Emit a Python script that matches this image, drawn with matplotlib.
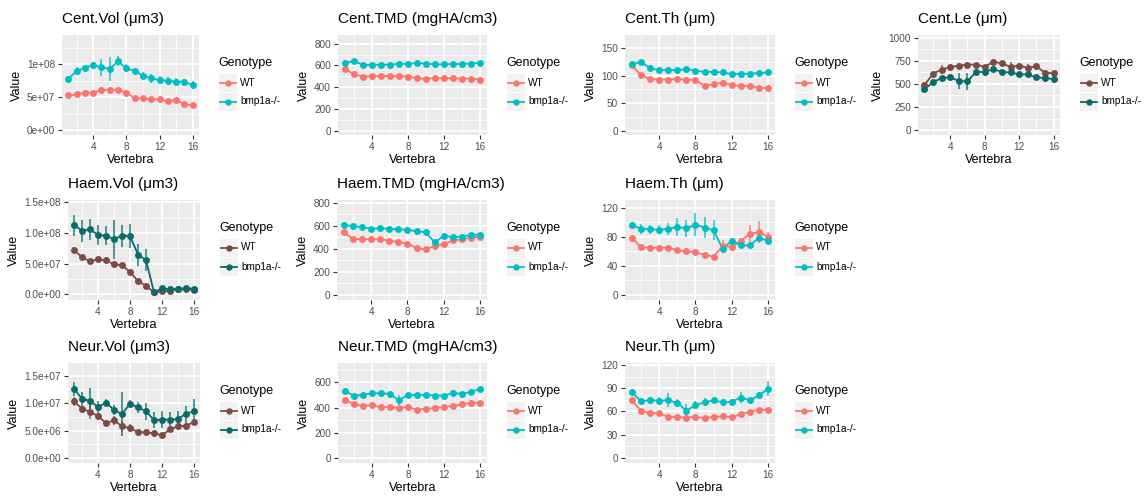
import matplotlib
matplotlib.use('Agg')
import matplotlib.pyplot as plt
from matplotlib.patches import Rectangle
from matplotlib.lines import Line2D
import numpy as np

plt.rcParams['font.family'] = ['Liberation Sans', 'DejaVu Sans']

W, H = 1146, 497

vertebra = list(range(1, 17))
genotypes = ['WT', 'bmp1a-/-']

# ---- data (mean, error half-width) ----
cent_vol_wt = [5.28e7, 5.44e7, 5.69e7, 5.69e7, 6.1e7, 6.15e7, 6.15e7, 5.69e7, 4.88e7, 4.83e7, 4.72e7, 4.67e7, 4.37e7, 4.57e7, 3.96e7, 3.76e7]
cent_vol_wt_err = [2.5e6, 3e6, 4e6, 3.5e6, 4e6, 3e6, 3e6, 4e6, 2.5e6, 2.5e6, 3e6, 2.5e6, 2.5e6, 2.5e6, 2e6, 2e6]
cent_vol_ko = [7.8e7, 9.0e7, 9.5e7, 9.9e7, 9.6e7, 9.3e7, 1.05e8, 9.4e7, 9.0e7, 8.3e7, 7.9e7, 7.6e7, 7.5e7, 7.4e7, 7.35e7, 6.85e7]
cent_vol_ko_err = [4e6, 6e6, 4e6, 5e6, 1.3e7, 1.8e7, 8e6, 6e6, 5e6, 5e6, 7e6, 6e6, 6e6, 6e6, 5e6, 6e6]

cent_tmd_wt = [570, 519, 497, 500, 500, 503, 500, 497, 482, 476, 485, 482, 482, 479, 479, 470]
cent_tmd_wt_err = [12, 10, 8, 8, 8, 8, 8, 8, 8, 8, 8, 8, 8, 8, 8, 8]
cent_tmd_ko = [622, 640, 607, 604, 607, 607, 613, 613, 622, 616, 610, 610, 613, 613, 616, 625]
cent_tmd_ko_err = [10, 10, 8, 8, 8, 8, 8, 8, 8, 8, 8, 8, 8, 8, 8, 10]

cent_th_wt = [119, 101, 94, 93, 93, 93.5, 93, 92, 82, 84.5, 87.5, 83, 81.5, 81.5, 78.5, 77]
cent_th_wt_err = [3, 2.5, 2, 2, 2, 2, 2, 2, 2, 2, 2, 2, 2, 2, 2, 2]
cent_th_ko = [121, 125, 114, 110, 111, 109.5, 112.5, 109, 107, 107, 106, 103, 103.5, 103.5, 105, 106]
cent_th_ko_err = [3, 3, 2, 2, 2, 2, 2, 2, 2, 2, 2, 2, 2, 2, 2, 2]

cent_le_wt = [489, 610, 656, 681, 699, 709, 709, 684, 741, 723, 684, 699, 674, 692, 621, 617]
cent_le_wt_err = [20, 20, 45, 25, 30, 25, 20, 25, 20, 20, 50, 25, 40, 35, 25, 20]
cent_le_ko = [443, 518, 564, 571, 532, 528, 631, 628, 663, 628, 624, 603, 603, 571, 564, 553]
cent_le_ko_err = [20, 20, 15, 15, 90, 90, 20, 40, 20, 15, 15, 15, 15, 20, 15, 15]

haem_vol_wt = [7.28e7, 6.03e7, 5.43e7, 5.7e7, 5.54e7, 4.89e7, 4.78e7, 3.64e7, 2.17e7, 1.41e7, 3.3e6, 4.9e6, 6.0e6, 8.1e6, 8.1e6, 7.6e6]
haem_vol_wt_err = [5e6, 3e6, 2.5e6, 2.5e6, 5e6, 3e6, 3e6, 3e6, 2e6, 2e6, 1e6, 1e6, 1e6, 1e6, 1e6, 1e6]
haem_vol_ko = [1.13e8, 1.04e8, 1.06e8, 9.7e7, 9.6e7, 9.0e7, 9.6e7, 9.5e7, 6.5e7, 5.6e7, 3.3e6, 9.8e6, 8.1e6, 9.2e6, 9.8e6, 9.2e6]
haem_vol_ko_err = [1.7e7, 1.8e7, 1.7e7, 1.6e7, 1.6e7, 3.2e7, 1.8e7, 2e7, 1.8e7, 1.8e7, 1e6, 2e6, 2e6, 2e6, 2e6, 2e6]

haem_tmd_wt = [542, 487, 481, 484, 484, 470, 458, 444, 406, 394, 423, 438, 473, 481, 496, 505]
haem_tmd_wt_err = [12, 8, 8, 8, 8, 8, 8, 8, 8, 8, 30, 15, 20, 35, 25, 20]
haem_tmd_ko = [606, 597, 589, 574, 577, 574, 568, 566, 551, 545, 455, 513, 502, 505, 522, 522]
haem_tmd_ko_err = [10, 10, 10, 10, 10, 10, 10, 25, 25, 25, 15, 10, 10, 10, 10, 10]

haem_th_wt = [78.7, 65.3, 64.9, 64.9, 64.9, 61.2, 59.8, 58.4, 55.2, 52.4, 67, 66, 74.5, 84.2, 86, 80]
haem_th_wt_err = [2, 1.5, 1.5, 1.5, 1.5, 1.5, 1.5, 1.5, 1.5, 1.5, 8, 6, 4, 12, 15, 6]
haem_th_ko = [96.1, 91, 90.2, 89.7, 90.6, 93.4, 91.5, 96.6, 92.5, 88.8, 63, 74.5, 68, 68, 78.7, 74]
haem_th_ko_err = [4, 7, 6, 6, 8, 12, 12, 16, 14, 14, 5, 4, 3, 3, 5, 4]

neur_vol_wt = [1.03e7, 8.98e6, 8.38e6, 7.65e6, 6.37e6, 6.86e6, 5.77e6, 5.46e6, 4.73e6, 4.67e6, 4.49e6, 4.13e6, 5.22e6, 5.77e6, 5.89e6, 6.56e6]
neur_vol_wt_err = [8e5, 7e5, 1.3e6, 8e5, 5e5, 8e5, 1e6, 7e5, 4e5, 3e5, 3e5, 4e5, 5e5, 5e5, 8e5, 6e5]
neur_vol_ko = [1.26e7, 1.08e7, 1.04e7, 9.29e6, 1.01e7, 8.74e6, 8.01e6, 9.89e6, 9.23e6, 8.5e6, 6.92e6, 6.98e6, 6.98e6, 7.1e6, 8.07e6, 8.5e6]
neur_vol_ko_err = [1.3e6, 1.2e6, 2.4e6, 1e6, 7e5, 1e6, 4e6, 6e5, 1e6, 1.5e6, 1.5e6, 1.6e6, 1.4e6, 1.4e6, 1.4e6, 2.2e6]

neur_tmd_wt = [460, 428, 412, 418, 402, 407, 394, 404, 383, 391, 396, 404, 412, 425, 439, 436]
neur_tmd_wt_err = [8] * 16
neur_tmd_ko = [531, 494, 500, 513, 513, 507, 457, 500, 500, 500, 494, 494, 515, 507, 526, 547]
neur_tmd_ko_err = [10, 8, 8, 8, 8, 8, 40, 8, 8, 8, 8, 8, 20, 8, 15, 18]

neur_th_wt = [74.4, 61, 58, 57.6, 53.3, 52.5, 52, 53.3, 51.2, 52.9, 53.8, 52.9, 56.3, 59.8, 62.4, 61.5]
neur_th_wt_err = [3, 2, 2, 2, 2, 2, 2, 2, 2, 2, 2, 2, 2, 2, 2, 3]
neur_th_ko = [85.2, 73.1, 74.4, 74, 74.4, 71, 61, 68, 71.8, 74.4, 71.8, 72.7, 77.8, 74.4, 80.8, 89.4]
neur_th_ko_err = [3, 4, 4, 5, 9, 5, 8, 5, 5, 3, 3, 3, 7, 3, 4, 10]

x_ticks = [4, 8, 12, 16]

hue_cols = ['#F8766D', '#00BFC4']
dark_cols = ['#7E4A45', '#0B6A6B']

# title, wt, wt_err, ko, ko_err, yticks, yticklabels, ylim, colors, (left, right, top, bottom) px
panels = [
    ('Cent.Vol (μm3)', cent_vol_wt, cent_vol_wt_err, cent_vol_ko, cent_vol_ko_err,
     [0, 5e7, 1e8], ['0e+00', '5e+07', '1e+08'], (-7.6e6, 1.45e8), hue_cols, (62, 199, 35, 135)),
    ('Cent.TMD (mgHA/cm3)', cent_tmd_wt, cent_tmd_wt_err, cent_tmd_ko, cent_tmd_ko_err,
     [0, 200, 400, 600, 800], ['0', '200', '400', '600', '800'], (-40, 880), hue_cols, (338, 487, 35, 135)),
    ('Cent.Th (μm)', cent_th_wt, cent_th_wt_err, cent_th_ko, cent_th_ko_err,
     [0, 50, 100, 150], ['0', '50', '100', '150'], (-7.7, 174), hue_cols, (625, 775, 35, 135)),
    ('Cent.Le (μm)', cent_le_wt, cent_le_wt_err, cent_le_ko, cent_le_ko_err,
     [0, 250, 500, 750, 1000], ['0', '250', '500', '750', '1000'], (-53, 1030), dark_cols, (918, 1060, 35, 135)),
    ('Haem.Vol (μm3)', haem_vol_wt, haem_vol_wt_err, haem_vol_ko, haem_vol_ko_err,
     [0, 5e7, 1e8, 1.5e8], ['0.0e+00', '5.0e+07', '1.0e+08', '1.5e+08'], (-9.2e6, 1.54e8), dark_cols, (68, 200, 200, 300)),
    ('Haem.TMD (mgHA/cm3)', haem_tmd_wt, haem_tmd_wt_err, haem_tmd_ko, haem_tmd_ko_err,
     [0, 200, 400, 600, 800], ['0', '200', '400', '600', '800'], (-46, 824), hue_cols, (337, 487, 200, 300)),
    ('Haem.Th (μm)', haem_th_wt, haem_th_wt_err, haem_th_ko, haem_th_ko_err,
     [0, 40, 80, 120], ['0', '40', '80', '120'], (-7.4, 130.6), hue_cols, (625, 775, 200, 300)),
    ('Neur.Vol (μm3)', neur_vol_wt, neur_vol_wt_err, neur_vol_ko, neur_vol_ko_err,
     [0, 5e6, 1e7, 1.5e7], ['0.0e+00', '5.0e+06', '1.0e+07', '1.5e+07'], (-9.1e5, 1.73e7), dark_cols, (68, 200, 363, 463)),
    ('Neur.TMD (mgHA/cm3)', neur_tmd_wt, neur_tmd_wt_err, neur_tmd_ko, neur_tmd_ko_err,
     [0, 200, 400, 600], ['0', '200', '400', '600'], (-40, 753), hue_cols, (338, 487, 363, 463)),
    ('Neur.Th (μm)', neur_th_wt, neur_th_wt_err, neur_th_ko, neur_th_ko_err,
     [0, 30, 60, 90, 120], ['0', '30', '60', '90', '120'], (-6.5, 122.5), hue_cols, (625, 775, 363, 463)),
]


def minor_breaks(major, lo, hi):
    step = major[1] - major[0]
    mids = [m + step / 2 for m in [major[0] - step] + list(major)]
    return [m for m in mids if lo < m < hi]


def draw_legend(fig, x_px, yc_px, colors):
    lax = fig.add_axes([x_px / W, 1 - (yc_px + 34) / H, 90 / W, 68 / H])
    lax.set_xlim(0, 90)
    lax.set_ylim(34, -34)
    lax.axis('off')
    lax.text(0, -22, 'Genotype', fontsize=9, va='center', ha='left')
    for k, (name, col) in enumerate(zip(genotypes, colors)):
        cy = -2.5 + 19 * k
        lax.add_patch(Rectangle((0, cy - 9.5), 19, 19, facecolor='#F2F2F2',
                                edgecolor='white', linewidth=0.8))
        lax.add_line(Line2D([1.5, 17.5], [cy, cy], color=col, linewidth=1.3))
        lax.plot([9.5], [cy], 'o', color=col, markersize=4.6, markeredgewidth=0)
        lax.text(22, cy, name, fontsize=7.2, va='center', ha='left')


fig = plt.figure(figsize=(W / 100, H / 100), dpi=100)

for (title, wt, wt_err, ko, ko_err, yt, ytl, ylim, cols, box) in panels:
    l, r, t, b = box
    ax = fig.add_axes([l / W, 1 - b / H, (r - l) / W, (b - t) / H])
    ax.set_facecolor('#EBEBEB')
    for s in ax.spines.values():
        s.set_visible(False)

    ax.set_xlim(0.25, 16.75)
    ax.set_ylim(*ylim)
    ax.set_xticks(x_ticks)
    ax.set_yticks(yt)
    ax.set_yticklabels(ytl)
    ax.set_xticks([2, 6, 10, 14], minor=True)
    ax.set_yticks(minor_breaks(yt, *ylim), minor=True)
    ax.grid(which='major', color='white', linewidth=1.3)
    ax.grid(which='minor', color='white', linewidth=0.6)
    ax.set_axisbelow(True)
    ax.tick_params(which='major', length=3, width=0.8, color='#333333',
                   labelsize=7.2, labelcolor='#4D4D4D', pad=2)
    ax.tick_params(which='minor', length=0)

    for vals, errs, col in [(wt, wt_err, cols[0]), (ko, ko_err, cols[1])]:
        v = np.array(vals)
        e = np.array(errs)
        ax.vlines(vertebra, v - e, v + e, color=col, linewidth=1.3, alpha=0.75, zorder=3)
        ax.plot(vertebra, v, '-', color=col, linewidth=1.3, zorder=4)
        ax.plot(vertebra, v, 'o', color=col, markersize=5, markeredgewidth=0, zorder=5)

    ax.set_title(title, loc='left', fontsize=11, pad=8.4)
    ax.set_xlabel('Vertebra', fontsize=9, labelpad=1.5)
    ax.set_ylabel('Value', fontsize=9, labelpad=3)

    draw_legend(fig, r + 19, (t + b) / 2, cols)

fig.savefig('out.png', dpi=100, facecolor='white')
